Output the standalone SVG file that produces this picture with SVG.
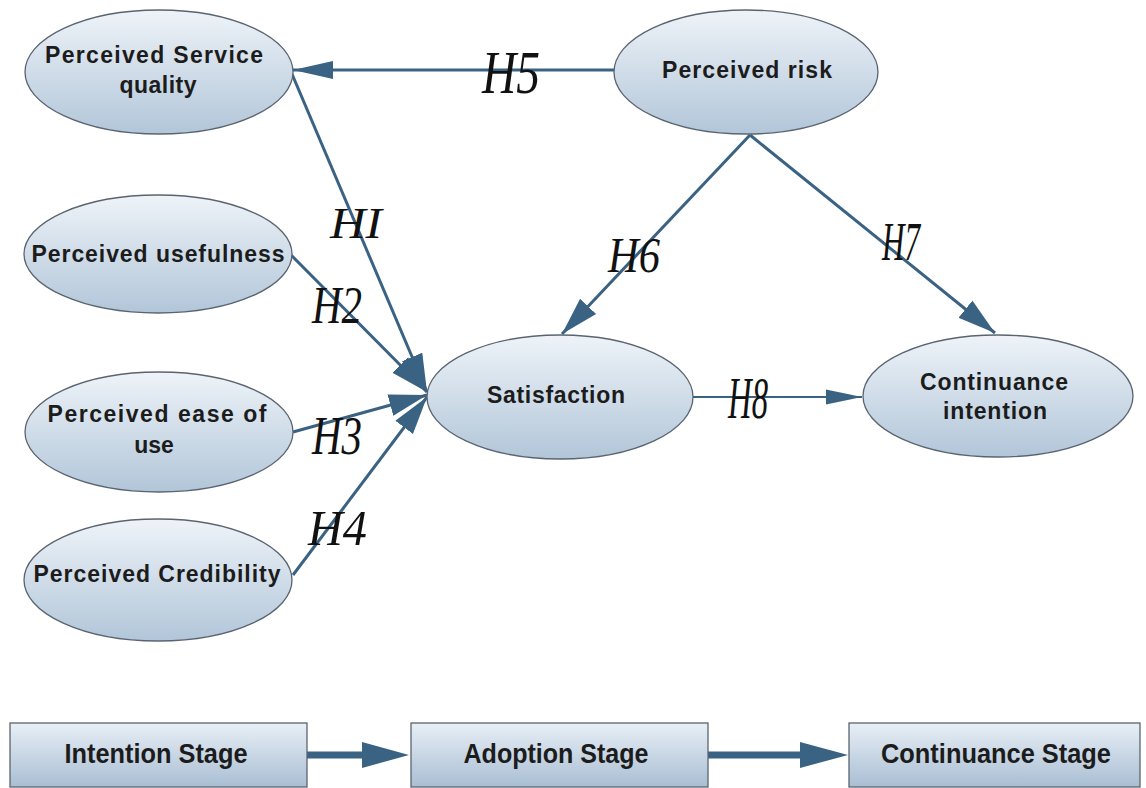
<svg xmlns="http://www.w3.org/2000/svg" width="1146" height="788" viewBox="0 0 1146 788">
<defs>
<linearGradient id="gEll" x1="0" y1="0" x2="0" y2="1">
<stop offset="0" stop-color="#eef3f8"/>
<stop offset="1" stop-color="#b2c6d9"/>
</linearGradient>
<linearGradient id="gBox" x1="0" y1="0" x2="0" y2="1">
<stop offset="0" stop-color="#e8eff6"/>
<stop offset="1" stop-color="#a9bed3"/>
</linearGradient>
<marker id="big" markerUnits="userSpaceOnUse" markerWidth="40" markerHeight="26" refX="38" refY="12" orient="auto" viewBox="0 0 40 24">
<path d="M0,1 L38,12 L0,23 Z" fill="#3a6283"/>
</marker>
<marker id="mid" markerUnits="userSpaceOnUse" markerWidth="42" markerHeight="22" refX="40" refY="10" orient="auto" viewBox="0 0 42 20">
<path d="M0,1 L40,10 L0,19 Z" fill="#3a6283"/>
</marker>
<marker id="sm" markerUnits="userSpaceOnUse" markerWidth="38" markerHeight="18" refX="36" refY="8" orient="auto" viewBox="0 0 38 16">
<path d="M0,0.5 L36,8 L0,15.5 Z" fill="#3a6283"/>
</marker>
</defs>
<style>
.ell{fill:url(#gEll);stroke:#5a6470;stroke-width:1.3}
.box{fill:url(#gBox);stroke:#5a6470;stroke-width:1.3}
.t{font-family:"Liberation Sans",Arial,sans-serif;font-weight:bold;font-size:23px;fill:#1c1c1c;text-anchor:middle}
.bt{font-family:"Liberation Sans",Arial,sans-serif;font-weight:bold;font-size:28px;fill:#1c1c1c;text-anchor:middle}
.h{font-family:"Liberation Serif","Times New Roman",serif;font-style:italic;fill:#111}
.c{stroke:#3a6283;stroke-width:3;fill:none}
</style>

<g id="connectors">
<line class="c" x1="615" y1="70" x2="293" y2="70" marker-end="url(#mid)"/>
<line class="c" x1="292" y1="74" x2="427" y2="392" marker-end="url(#big)"/>
<line class="c" x1="291" y1="255" x2="427" y2="392" marker-end="url(#big)"/>
<line class="c" x1="293" y1="432" x2="427" y2="395" marker-end="url(#big)"/>
<line class="c" x1="293" y1="575" x2="427" y2="397" marker-end="url(#big)"/>
<line class="c" x1="750" y1="135" x2="562" y2="334" marker-end="url(#big)"/>
<line class="c" x1="750" y1="135" x2="995" y2="333" marker-end="url(#big)"/>
<line class="c" style="stroke-width:2" x1="693" y1="397" x2="862" y2="397" marker-end="url(#sm)"/>
<g id="stage-arrows">
<rect x="307" y="751.5" width="56" height="7" fill="#3a6283"/>
<path d="M362,742 L409,755 L362,768 Z" fill="#3a6283"/>
<rect x="708" y="751.5" width="93" height="7" fill="#3a6283"/>
<path d="M800,742 L848,755 L800,768 Z" fill="#3a6283"/>
</g>
</g>

<g id="labels">
<text class="h" x="482" y="93" font-size="62" textLength="58" lengthAdjust="spacingAndGlyphs">H5</text>
<text class="h" x="330" y="238" font-size="44" textLength="52" lengthAdjust="spacingAndGlyphs">HI</text>
<text class="h" x="312" y="323" font-size="52" textLength="50" lengthAdjust="spacingAndGlyphs">H2</text>
<text class="h" x="312" y="454" font-size="54" textLength="50" lengthAdjust="spacingAndGlyphs">H3</text>
<text class="h" x="308" y="545" font-size="50" textLength="59" lengthAdjust="spacingAndGlyphs">H4</text>
<text class="h" x="608" y="272" font-size="50" textLength="52" lengthAdjust="spacingAndGlyphs">H6</text>
<text class="h" x="882" y="260" font-size="54" textLength="38" lengthAdjust="spacingAndGlyphs">H7</text>
<text class="h" x="728" y="418" font-size="60" textLength="40" lengthAdjust="spacingAndGlyphs">H8</text>
</g>

<g id="node-service-quality">
<ellipse class="ell" cx="159" cy="72" rx="134" ry="62"/>
<text class="t" x="154" y="63" textLength="218">Perceived Service</text>
<text class="t" x="158" y="93" textLength="77">quality</text>
</g>
<g id="node-perceived-risk">
<ellipse class="ell" cx="746" cy="72" rx="132" ry="62"/>
<text class="t" x="747" y="78" textLength="170">Perceived risk</text>
</g>
<g id="node-usefulness">
<ellipse class="ell" cx="158" cy="254" rx="134" ry="59"/>
<text class="t" x="158" y="262" textLength="253">Perceived usefulness</text>
</g>
<g id="node-ease-of-use">
<ellipse class="ell" cx="159" cy="432" rx="134" ry="60"/>
<text class="t" x="157" y="422" textLength="219">Perceived ease of</text>
<text class="t" x="154" y="453">use</text>
</g>
<g id="node-credibility">
<ellipse class="ell" cx="158" cy="580" rx="134" ry="61"/>
<text class="t" x="157" y="582" textLength="247">Perceived Credibility</text>
</g>
<g id="node-satisfaction">
<ellipse class="ell" cx="560" cy="397" rx="133" ry="62"/>
<text class="t" x="556" y="403" textLength="138">Satisfaction</text>
</g>
<g id="node-continuance-intention">
<ellipse class="ell" cx="998" cy="396" rx="135" ry="61"/>
<text class="t" x="994" y="390" textLength="148">Continuance</text>
<text class="t" x="995" y="419" textLength="104">intention</text>
</g>

<g id="node-intention-stage">
<rect class="box" x="10" y="723" width="297" height="64"/>
<text class="bt" x="156" y="763" textLength="183" lengthAdjust="spacingAndGlyphs">Intention Stage</text>
</g>
<g id="node-adoption-stage">
<rect class="box" x="411" y="723" width="297" height="64"/>
<text class="bt" x="556" y="763" textLength="185" lengthAdjust="spacingAndGlyphs">Adoption Stage</text>
</g>
<g id="node-continuance-stage">
<rect class="box" x="849" y="723" width="291" height="64"/>
<text class="bt" x="996" y="763" textLength="230" lengthAdjust="spacingAndGlyphs">Continuance Stage</text>
</g>
</svg>
